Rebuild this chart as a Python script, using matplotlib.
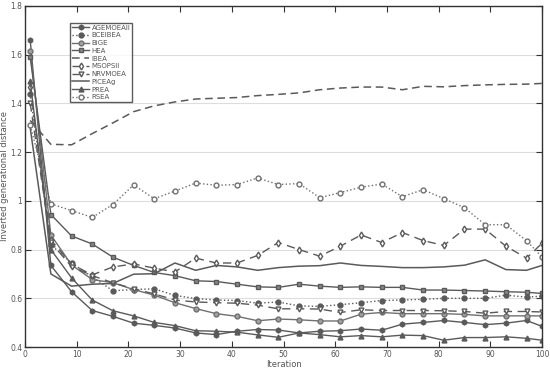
import numpy as np
import matplotlib.pyplot as plt

it = [1, 5, 9, 13, 17, 21, 25, 29, 33, 37, 41, 45, 49, 53, 57, 61, 65, 69, 73, 77, 81, 85, 89, 93, 97, 100]

agemoeaii = [1.66, 0.735, 0.627, 0.550, 0.526, 0.498, 0.489, 0.478, 0.458, 0.451, 0.465, 0.472, 0.470,
             0.458, 0.465, 0.467, 0.474, 0.469, 0.494, 0.501, 0.509, 0.501, 0.492, 0.498, 0.509, 0.485]
bceibea = [1.44, 0.82, 0.745, 0.688, 0.631, 0.636, 0.639, 0.612, 0.599, 0.593, 0.591, 0.580, 0.585,
           0.569, 0.567, 0.574, 0.582, 0.591, 0.593, 0.596, 0.600, 0.600, 0.600, 0.613, 0.605, 0.609]
bige = [1.615, 0.86, 0.737, 0.677, 0.664, 0.636, 0.613, 0.582, 0.558, 0.537, 0.526, 0.508, 0.515,
        0.512, 0.507, 0.507, 0.535, 0.542, 0.537, 0.537, 0.537, 0.534, 0.528, 0.528, 0.528, 0.528]
hea = [1.59, 0.944, 0.856, 0.823, 0.769, 0.735, 0.706, 0.693, 0.672, 0.669, 0.658, 0.647, 0.645,
       0.658, 0.650, 0.645, 0.647, 0.645, 0.645, 0.634, 0.634, 0.632, 0.630, 0.627, 0.625, 0.620]
ibea = [1.33, 1.232, 1.23, 1.276, 1.32, 1.366, 1.39, 1.406, 1.418, 1.421, 1.424, 1.432, 1.437,
        1.443, 1.456, 1.463, 1.467, 1.467, 1.456, 1.470, 1.468, 1.473, 1.476, 1.478, 1.479, 1.482]
msopsii = [1.466, 0.84, 0.74, 0.696, 0.729, 0.741, 0.724, 0.708, 0.765, 0.745, 0.745, 0.776, 0.829,
           0.800, 0.773, 0.814, 0.860, 0.829, 0.870, 0.837, 0.817, 0.884, 0.884, 0.814, 0.765, 0.826]
nrvmoea = [1.40, 0.83, 0.73, 0.693, 0.664, 0.639, 0.618, 0.593, 0.585, 0.582, 0.580, 0.572, 0.557,
           0.557, 0.556, 0.542, 0.553, 0.550, 0.550, 0.550, 0.549, 0.546, 0.539, 0.546, 0.546, 0.544]
piceag = [1.30, 0.700, 0.650, 0.658, 0.661, 0.699, 0.701, 0.745, 0.715, 0.735, 0.729, 0.715, 0.726,
          0.732, 0.734, 0.745, 0.735, 0.731, 0.726, 0.726, 0.729, 0.736, 0.758, 0.718, 0.715, 0.735]
prea = [1.49, 0.80, 0.684, 0.593, 0.549, 0.528, 0.501, 0.488, 0.467, 0.465, 0.461, 0.450, 0.440,
        0.458, 0.451, 0.442, 0.447, 0.442, 0.449, 0.447, 0.428, 0.439, 0.439, 0.442, 0.436, 0.428]
rsea = [1.31, 0.988, 0.960, 0.932, 0.985, 1.065, 1.009, 1.040, 1.073, 1.064, 1.067, 1.094, 1.067,
        1.071, 1.013, 1.034, 1.056, 1.069, 1.017, 1.046, 1.009, 0.972, 0.902, 0.902, 0.837, 0.769]

c = "#5a5a5a"
fig = plt.figure(figsize=(5.5, 3.7), dpi=100)
ax = fig.add_axes([0.0455, 0.062, 0.94, 0.922])

ms = 3.5
ax.plot(it, agemoeaii, "-", color=c, lw=1, marker="h", ms=ms, mfc=c, mec=c, label="AGEMOEAII")
ax.plot(it, bceibea, ":", color=c, lw=1, marker="o", ms=ms, mfc=c, mec=c, label="BCEIBEA")
ax.plot(it, bige, "-", color="#707070", lw=1, marker="o", ms=ms, mfc="#a0a0a0", mec="#707070", label="BiGE")
ax.plot(it, hea, "-", color=c, lw=1, marker="s", ms=3, mfc="#888888", mec=c, label="HEA")
ax.plot(it, ibea, "--", color=c, lw=1.1, dashes=(5, 3), label="IBEA")
ax.plot(it, msopsii, "--", color=c, lw=1, dashes=(6, 4), marker="d", ms=ms, mfc="white", mec=c, label="MSOPSII")
ax.plot(it, nrvmoea, "--", color=c, lw=1, dashes=(6, 4), marker="v", ms=ms, mfc="white", mec=c, label="NRVMOEA")
ax.plot(it, piceag, "-", color=c, lw=1.1, label="PICEAg")
ax.plot(it, prea, "-", color=c, lw=1, marker="^", ms=ms, mfc=c, mec=c, label="PREA")
ax.plot(it, rsea, ":", color="#707070", lw=1, marker="o", ms=ms, mfc="white", mec="#707070", label="RSEA")

ax.set_xlim(0, 100)
ax.set_ylim(0.4, 1.8)
ax.set_xticks(range(0, 101, 10))
ax.set_yticks([0.4, 0.6, 0.8, 1.0, 1.2, 1.4, 1.6, 1.8])
ax.set_yticklabels(["0.4", "0.6", "0.8", "1", "1.2", "1.4", "1.6", "1.8"])
ax.yaxis.grid(True, color="#dddddd", lw=0.8)
ax.set_axisbelow(True)
ax.tick_params(direction="in", top=True, right=True, length=4, width=0.8,
               labelsize=5.5, labelcolor="#555555", color="#333333", pad=2)
for s in ax.spines.values():
    s.set_color("#333333")
    s.set_linewidth(1)
ax.set_xlabel("Iteration", fontsize=6, color="#555555", labelpad=0.5)
ax.set_ylabel("Inverted generational distance", fontsize=6, color="#555555", labelpad=1)

leg = ax.legend(loc="upper left", bbox_to_anchor=(0.087, 0.951), borderaxespad=0,
                fontsize=5, frameon=True, fancybox=False, handlelength=2.5,
                labelspacing=0.25, borderpad=0.3, handletextpad=0.3)
leg.get_frame().set_edgecolor("#333333")
leg.get_frame().set_linewidth(1)
for t in leg.get_texts():
    t.set_color("#555555")

plt.savefig("out.png", dpi=100)
